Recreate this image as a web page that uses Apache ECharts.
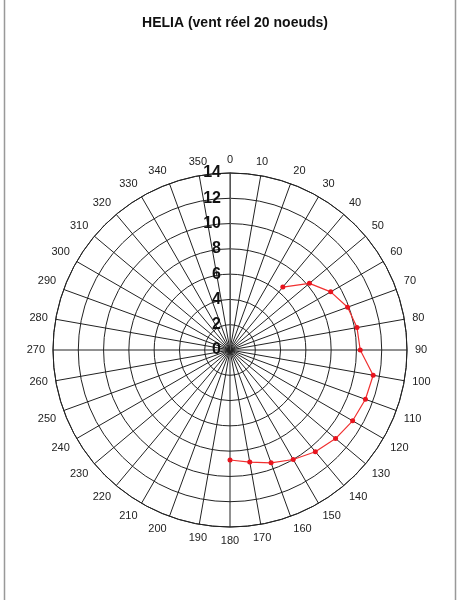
<!DOCTYPE html>
<html>
<head>
<meta charset="utf-8">
<script src="https://cdn.jsdelivr.net/npm/echarts@6/dist/echarts.min.js"></script>
<style>html,body{margin:0;padding:0;background:#fff}#main{width:472px;height:600px}</style>
</head>
<body>
<div id="main"></div>
<script>
// angles in degrees, boat speed in knots
const angles = [40, 50, 60, 70, 80, 90, 100, 110, 120, 130, 140, 150, 160, 170, 180];
const speeds = [6.5, 8.2, 9.2, 9.9, 10.2, 10.3, 11.5, 11.4, 11.2, 10.9, 10.5, 10.0, 9.5, 9.0, 8.7];

const chart = echarts.init(document.getElementById('main'));
chart.setOption({
    animation: false,
    title: {
        text: 'HELIA (vent réel 20 noeuds)',
        left: 230, top: 11, textAlign: 'center',
        textStyle: { fontFamily: 'Liberation Sans', fontSize: 14, fontWeight: 'bold', color: '#111' }
    },
    graphic: [{
        type: 'rect', shape: { x: 4.5, y: -2, width: 451, height: 610 },
        style: { fill: 'none', stroke: '#999', lineWidth: 1.5 }
    }],
    polar: { center: [230, 350], radius: 177 },
    angleAxis: {
        type: 'value', min: 0, max: 360, interval: 10, startAngle: 90, clockwise: true,
        axisLine: { lineStyle: { color: '#222', width: 1 } },
        axisTick: { show: false },
        axisLabel: {
            margin: 8, color: '#222', fontSize: 11, fontFamily: 'Liberation Sans',
            formatter: v => (v >= 360 ? '' : String(v))
        },
        splitLine: { lineStyle: { color: '#222', width: 1 } }
    },
    radiusAxis: {
        type: 'value', min: 0, max: 14, interval: 2,
        axisLine: { lineStyle: { color: '#555', width: 1 } },
        axisTick: { show: false },
        axisLabel: {
            color: '#111', fontSize: 16, fontWeight: 'bold', fontFamily: 'Liberation Sans',
            margin: 9, align: 'right', verticalAlign: 'middle'
        },
        splitLine: { lineStyle: { color: '#222', width: 1 } }
    },
    series: [{
        type: 'line', coordinateSystem: 'polar',
        data: angles.map((a, i) => [speeds[i], a]),
        symbol: 'circle', symbolSize: 5,
        itemStyle: { color: '#e8141e' },
        lineStyle: { color: '#f03030', width: 1.2 }
    }]
});
</script>
</body>
</html>
